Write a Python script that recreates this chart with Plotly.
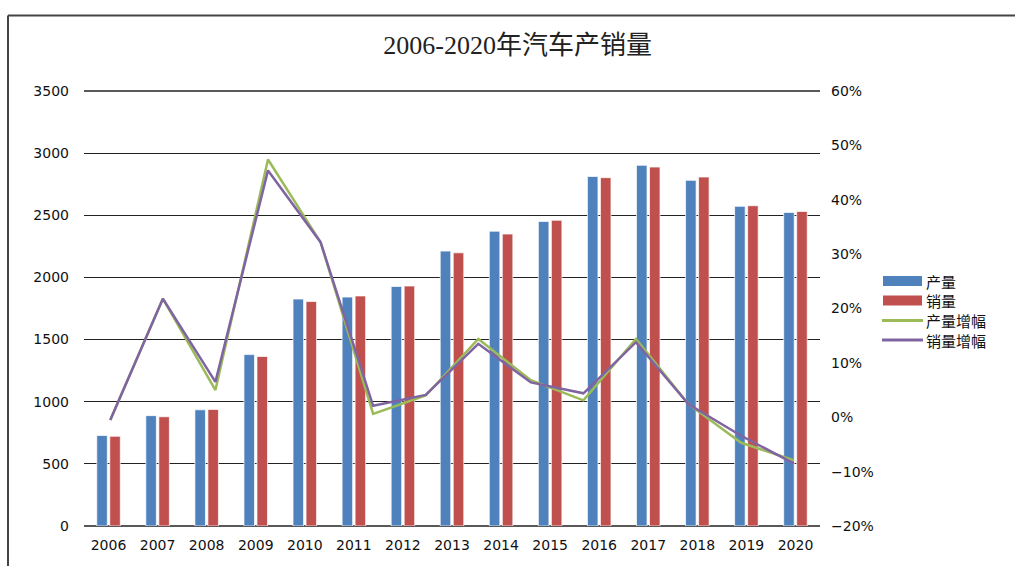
import plotly.graph_objects as go

# ---- data ----
years = ["2006", "2007", "2008", "2009", "2010", "2011", "2012", "2013",
         "2014", "2015", "2016", "2017", "2018", "2019", "2020"]
production = [728, 888, 935, 1379, 1826, 1842, 1927, 2212, 2372, 2450, 2812, 2902, 2781, 2572, 2523]
sales = [722, 879, 938, 1364, 1806, 1851, 1931, 2198, 2349, 2460, 2803, 2888, 2808, 2577, 2531]

growth_years = ["2006", "2007", "2008", "2009", "2010", "2011", "2012",
                "2013", "2014", "2015", "2016", "2017", "2018", "2019"]
prod_growth = [-0.005, 0.218, 0.050, 0.474, 0.322, 0.006, 0.040,
               0.144, 0.068, 0.031, 0.144, 0.024, -0.047, -0.079]
sales_growth = [-0.005, 0.218, 0.065, 0.454, 0.322, 0.021, 0.041,
                0.135, 0.064, 0.044, 0.138, 0.024, -0.034, -0.085]

legend_names = ["产量", "销量", "产量增幅", "销量增幅"]
title_text = "2006-2020年汽车产销量"

BLUE, RED, GREEN, PURPLE = "#4F81BD", "#C0504D", "#9BBB59", "#8064A2"

W, H = 1015, 566
L, R, T, B = 84, 820, 91, 526


def px_x(px):
    return (px - L) / (R - L)


def px_y(py):
    return (B - py) / (B - T)


fig = go.Figure()
fig.add_trace(go.Bar(x=years, y=production, name=legend_names[0],
                     marker=dict(color=BLUE, line=dict(color="rgba(255,255,255,0.7)", width=1))))
fig.add_trace(go.Bar(x=years, y=sales, name=legend_names[1],
                     marker=dict(color=RED, line=dict(color="rgba(255,255,255,0.7)", width=1))))
fig.add_trace(go.Scatter(x=growth_years, y=prod_growth, name=legend_names[2], mode="lines",
                         line=dict(color=GREEN, width=2.5), xaxis="x2", yaxis="y2"))
fig.add_trace(go.Scatter(x=growth_years, y=sales_growth, name=legend_names[3], mode="lines",
                         line=dict(color=PURPLE, width=2.5), xaxis="x2", yaxis="y2"))

tick_font = dict(family="DejaVu Sans, Liberation Sans, sans-serif", size=14, color="#111")

fig.update_layout(
    width=W, height=H,
    margin=dict(l=L, r=W - R, t=T, b=H - B, pad=0),
    paper_bgcolor="white", plot_bgcolor="white",
    showlegend=False,
    barmode="group", bargap=0.47, bargroupgap=0.19,
    title=dict(text=title_text, x=0.51, xanchor="center", y=1 - 45 / H, yanchor="middle",
               font=dict(family="Liberation Serif, Noto Sans CJK SC, serif", size=26, color="#222")),
    xaxis=dict(type="category", showgrid=False, showline=False, zeroline=False,
               ticks="", tickfont=tick_font, ticklabelstandoff=9),
    xaxis2=dict(type="category", overlaying="x", range=[-0.5, 13.5], visible=False),
    yaxis=dict(range=[0, 3500], dtick=500, showgrid=True, gridcolor="#222", gridwidth=1.3,
               zeroline=False, showline=False, ticks="", tickfont=tick_font, ticklabelstandoff=14),
    yaxis2=dict(range=[-0.2, 0.6], dtick=0.1, tickformat=".0%", overlaying="y", side="right",
                showgrid=False, zeroline=False, showline=False, ticks="", tickfont=tick_font,
                ticklabelstandoff=10),
)

# bottom axis line and top gridline
shapes = [dict(type="line", xref="paper", yref="paper", x0=0, x1=1, y0=yy, y1=yy,
               line=dict(color="#222", width=1.3), layer="below") for yy in (0, 1)]
# frame
shapes.append(dict(type="line", xref="paper", yref="paper", x0=px_x(8), x1=px_x(1016),
                   y0=px_y(15.5), y1=px_y(15.5), line=dict(color="#444", width=2)))
shapes.append(dict(type="line", xref="paper", yref="paper", x0=px_x(8), x1=px_x(8),
                   y0=px_y(15.5), y1=px_y(570), line=dict(color="#444", width=2)))

# manual legend
rows = [281, 300.5, 320.5, 340]
colors = [BLUE, RED, GREEN, PURPLE]
annotations = []
for i, (name, col, cy) in enumerate(zip(legend_names, colors, rows)):
    if i < 2:
        shapes.append(dict(type="rect", xref="paper", yref="paper",
                           x0=px_x(883), x1=px_x(922), y0=px_y(cy + 5), y1=px_y(cy - 5),
                           fillcolor=col, line=dict(width=0)))
    else:
        shapes.append(dict(type="line", xref="paper", yref="paper",
                           x0=px_x(882), x1=px_x(923), y0=px_y(cy), y1=px_y(cy),
                           line=dict(color=col, width=3)))
    annotations.append(dict(text=name, xref="paper", yref="paper", x=px_x(924), y=px_y(cy),
                            xanchor="left", yanchor="middle", showarrow=False,
                            font=dict(family="Noto Sans CJK SC, sans-serif", size=15, color="#111")))

fig.update_layout(shapes=shapes, annotations=annotations)
fig.write_html("out.html", config={"displayModeBar": False},
               post_script="document.body.style.margin='0';")
